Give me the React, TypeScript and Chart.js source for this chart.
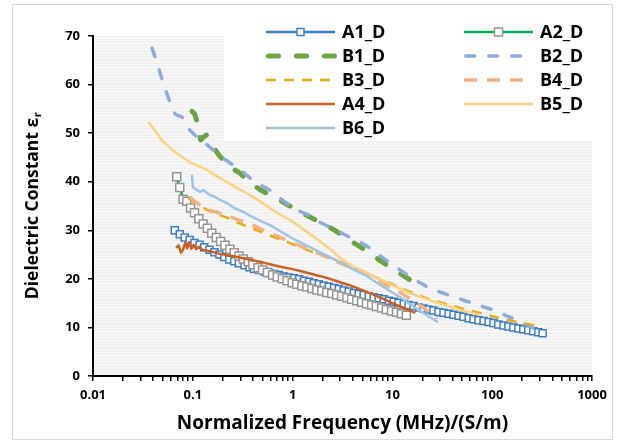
import React, { useEffect, useRef } from 'react';
import { Chart, registerables } from 'chart.js';

Chart.register(...registerables);

const FONT = '"Open Sans", "Liberation Sans", Arial, sans-serif';

// ---------- axis ticks ----------
const X_DECADES = [0.01, 0.1, 1, 10, 100];
const X_MINOR_MULT = [1, 2, 3, 4, 5, 6, 7, 8, 9];
const X_TICK_LABELS = ['0.01', '0.1', '1', '10', '100', '1000'];
const X_MAX = 1000;
const Y_MIN = 0;
const Y_MAX = 70;
const Y_STEP = 10;
const X_TITLE = 'Normalized Frequency (MHz)/(S/m)';
const Y_TITLE_MAIN = 'Dielectric Constant ε';
const Y_TITLE_SUB = 'r';

// ---------- series ----------
const A1_X = [0.066, 0.074, 0.083, 0.093, 0.104, 0.117, 0.13, 0.147, 0.165, 0.185, 0.207, 0.232, 0.26, 0.29, 0.33, 0.37, 0.41, 0.46, 0.52, 0.58, 0.65, 0.73, 0.82, 0.92, 1.03, 1.16, 1.3, 1.46, 1.63, 1.83, 2.05, 2.3, 2.6, 2.9, 3.25, 3.65, 4.1, 4.6, 5.15, 5.8, 6.5, 7.3, 8.2, 9.2, 10.3, 11.5, 13, 14.5, 16.3, 18.3, 20.5, 23, 25.8, 29, 32.5, 36.5, 41, 46, 51.5, 58, 65, 73, 82, 92, 103, 115, 130, 145, 163, 183, 205, 230, 258, 290, 320];
const A1_Y = [30.0, 29.2, 28.5, 28.0, 27.4, 27.0, 26.5, 26.0, 25.5, 25.0, 24.5, 24.0, 23.6, 23.2, 22.8, 22.4, 22.1, 21.8, 21.5, 21.2, 21.0, 20.8, 20.5, 20.3, 20.1, 19.9, 19.6, 19.4, 19.1, 18.9, 18.6, 18.4, 18.1, 17.9, 17.6, 17.4, 17.1, 16.9, 16.7, 16.4, 16.2, 16.0, 15.8, 15.5, 15.3, 15.1, 14.8, 14.6, 14.4, 14.1, 13.9, 13.7, 13.5, 13.2, 13.0, 12.8, 12.6, 12.4, 12.2, 11.9, 11.7, 11.5, 11.3, 11.1, 10.9, 10.6, 10.4, 10.2, 10.0, 9.8, 9.6, 9.4, 9.2, 9.0, 8.8];

const A2_X = [0.069, 0.074, 0.08, 0.087, 0.095, 0.104, 0.115, 0.127, 0.14, 0.155, 0.172, 0.19, 0.21, 0.235, 0.26, 0.29, 0.32, 0.36, 0.4, 0.45, 0.5, 0.56, 0.63, 0.7, 0.79, 0.88, 0.99, 1.1, 1.24, 1.39, 1.56, 1.75, 1.96, 2.2, 2.47, 2.77, 3.1, 3.5, 3.9, 4.4, 4.9, 5.5, 6.2, 6.9, 7.8, 8.7, 9.8, 11, 12.3, 13.8];
const A2_Y = [41.0, 38.8, 36.4, 36.0, 34.6, 33.6, 32.4, 31.3, 30.4, 29.4, 28.5, 27.7, 26.9, 26.1, 25.4, 24.7, 24.1, 23.5, 22.9, 22.3, 21.8, 21.3, 20.8, 20.4, 20.0, 19.6, 19.2, 18.9, 18.6, 18.3, 18.0, 17.7, 17.5, 17.2, 17.0, 16.7, 16.4, 16.1, 15.8, 15.5, 15.2, 14.9, 14.6, 14.3, 14.0, 13.7, 13.4, 13.1, 12.8, 12.5];

const B1_X = [0.098, 0.104, 0.11, 0.115, 0.12, 0.13, 0.137, 0.145, 0.156, 0.17, 0.187, 0.21, 0.236, 0.27, 0.3, 0.35, 0.4, 0.47, 0.55, 0.65, 0.75, 0.9, 1.1, 1.3, 1.6, 2.0, 2.5, 3.0, 3.7, 4.6, 5.9, 7.5, 9.0, 11, 13.5, 16, 18.9];
const B1_Y = [54.5, 54.0, 52.5, 50.0, 48.6, 49.3, 49.6, 48.5, 47.6, 46.4, 45.2, 44.2, 43.2, 42.3, 41.7, 40.4, 39.4, 38.4, 37.6, 36.8, 36.2, 35.2, 34.2, 33.4, 32.4, 31.4, 30.3, 29.3, 28.0, 26.8, 25.4, 23.8, 22.7, 21.6, 20.4, 19.4, 18.3];

const B2_X = [0.039, 0.043, 0.047, 0.052, 0.059, 0.066, 0.072, 0.078, 0.083, 0.09, 0.1, 0.11, 0.125, 0.139, 0.16, 0.2, 0.25, 0.3, 0.4, 0.5, 0.59, 0.75, 0.9, 1.1, 1.39, 1.89, 2.35, 3.0, 3.7, 4.7, 5.9, 7.5, 9.4, 12, 15, 18.5, 22.7, 29, 37.6, 50, 64, 80, 102, 135, 177, 240, 320];
const B2_Y = [67.5, 65.0, 62.4, 59.5, 56.4, 54.0, 53.6, 53.3, 52.5, 51.0, 50.0, 49.2, 48.3, 47.6, 46.5, 44.9, 43.5, 42.4, 40.3, 39.1, 38.3, 36.6, 35.3, 34.2, 33.3, 31.6, 30.7, 29.6, 28.6, 27.6, 26.4, 24.8, 23.3, 21.8, 20.5, 19.3, 18.3, 17.4, 16.6, 15.7, 15.0, 14.3, 13.6, 12.5, 11.5, 10.2, 9.0];

const B3_X = [0.09, 0.1, 0.115, 0.139, 0.17, 0.22, 0.28, 0.37, 0.5, 0.65, 0.88, 1.2, 1.6, 2.2, 3.0, 4.4, 6.3, 9.4, 15, 24, 35, 50, 75, 120, 180, 270];
const B3_Y = [36.6, 36.0, 35.2, 34.2, 33.4, 32.6, 31.6, 30.6, 29.6, 28.6, 27.6, 26.5, 25.5, 24.5, 23.5, 22.1, 20.6, 19.1, 17.3, 15.7, 14.8, 13.9, 13.0, 11.9, 11.1, 10.4];

const B4_X = [0.094, 0.105, 0.118, 0.139, 0.175, 0.22, 0.3, 0.37, 0.5, 0.7, 1.0, 1.4, 1.9, 2.5, 3.4, 4.4, 5.5, 7.5, 11, 15, 20, 24, 28.6];
const B4_Y = [36.8, 35.9, 35.2, 34.2, 33.7, 33.0, 32.0, 31.4, 30.1, 28.8, 27.4, 26.2, 25.1, 23.9, 22.8, 21.8, 21.0, 19.4, 17.7, 15.9, 14.2, 13.0, 11.9];

const A4_X = [0.068, 0.072, 0.076, 0.08, 0.084, 0.088, 0.092, 0.097, 0.102, 0.108, 0.115, 0.125, 0.14, 0.16, 0.19, 0.23, 0.28, 0.35, 0.43, 0.5, 0.65, 0.8, 1.0, 1.3, 1.7, 2.2, 2.8, 3.6, 4.6, 5.8, 7.5, 10, 13, 17];
const A4_Y = [26.4, 26.9, 25.4, 26.0, 27.4, 26.3, 27.6, 26.2, 27.0, 26.1, 26.6, 26.0, 25.8, 25.5, 25.1, 24.8, 24.5, 24.1, 23.7, 23.4, 22.8, 22.4, 22.0, 21.4, 20.8, 20.2, 19.5, 18.8, 18.0, 17.1, 16.2, 15.0, 14.0, 13.0];

const B5_X = [0.036, 0.04, 0.045, 0.05, 0.055, 0.062, 0.069, 0.08, 0.094, 0.115, 0.139, 0.165, 0.2, 0.25, 0.3, 0.4, 0.5, 0.65, 0.8, 1.0, 1.2, 1.6, 2.0, 2.5, 3.0, 4.0, 5.5, 7.5, 10, 14, 18.9, 26, 37.6, 52, 75];
const B5_Y = [52.3, 51.0, 49.6, 48.3, 47.6, 46.6, 45.9, 45.0, 44.0, 43.2, 42.4, 41.4, 40.4, 39.3, 38.3, 36.9, 35.6, 34.0, 32.9, 31.8, 30.6, 28.8, 27.3, 25.8, 24.3, 22.6, 21.3, 19.9, 18.7, 17.3, 16.3, 15.3, 14.3, 13.4, 12.6];

const B6_X = [0.098, 0.1, 0.104, 0.118, 0.128, 0.14, 0.148, 0.165, 0.19, 0.22, 0.26, 0.32, 0.4, 0.47, 0.6, 0.8, 1.0, 1.2, 1.6, 2.2, 3.0, 4.0, 5.5, 7.5, 10, 12, 15, 19, 23, 28.6];
const B6_Y = [41.4, 39.0, 38.6, 37.9, 38.3, 37.6, 37.3, 36.9, 36.2, 35.6, 34.6, 33.8, 32.7, 32.0, 31.0, 29.5, 28.3, 27.5, 26.2, 24.8, 23.4, 22.0, 20.6, 18.8, 17.2, 16.2, 14.8, 13.4, 12.3, 11.1];

const SERIES_NAMES = ['A1_D', 'A2_D', 'B1_D', 'B2_D', 'B3_D', 'B4_D', 'A4_D', 'B5_D', 'B6_D'];

type Style = {
  color: string;
  width: number;
  dash: number[];
  cap: CanvasLineCap;
  marker?: { size: number; stroke: string };
};

const STYLES: Style[] = [
  { color: '#3F7EC2', width: 2.5, dash: [], cap: 'butt', marker: { size: 7, stroke: '#3F7EC2' } },
  { color: '#00B050', width: 2.5, dash: [], cap: 'butt', marker: { size: 8, stroke: '#959595' } },
  { color: '#6AA342', width: 5, dash: [10, 18], cap: 'round' },
  { color: '#8FAADC', width: 3.5, dash: [9, 14], cap: 'round' },
  { color: '#E5A912', width: 2.5, dash: [10, 8], cap: 'butt' },
  { color: '#F4B183', width: 3.5, dash: [13, 10], cap: 'butt' },
  { color: '#CC5F22', width: 2.5, dash: [], cap: 'butt' },
  { color: '#FFD07F', width: 2.5, dash: [], cap: 'butt' },
  { color: '#9DC3E6', width: 2.5, dash: [], cap: 'butt' },
];

const SERIES_X = [A1_X, A2_X, B1_X, B2_X, B3_X, B4_X, A4_X, B5_X, B6_X];
const SERIES_Y = [A1_Y, A2_Y, B1_Y, B2_Y, B3_Y, B4_Y, A4_Y, B5_Y, B6_Y];

const xTickValues: number[] = [];
X_DECADES.forEach((d) => X_MINOR_MULT.forEach((m) => xTickValues.push(Number((d * m).toPrecision(6)))));
xTickValues.push(X_MAX);

function xLabel(v: number): string {
  const e = Math.log10(v);
  const r = Math.round(e);
  if (Math.abs(e - r) < 1e-6) return X_TICK_LABELS[r + 2] ?? '';
  return '';
}

const decorPlugin = {
  id: 'decor',
  beforeDraw(chart: any) {
    const { ctx, chartArea: ca, width, height } = chart;
    ctx.save();
    ctx.fillStyle = '#FFFFFF';
    ctx.fillRect(0, 0, width, height);
    ctx.strokeStyle = '#D9D9D9';
    ctx.lineWidth = 1;
    ctx.strokeRect(12.5, 4.5, 600, 435);
    // patterned plot area
    ctx.fillStyle = '#EFEFEF';
    ctx.fillRect(ca.left, ca.top, ca.right - ca.left, ca.bottom - ca.top);
    ctx.fillStyle = '#F8F8F8';
    for (let y = ca.top + 1; y < ca.bottom; y += 3) {
      ctx.fillRect(ca.left, y, ca.right - ca.left, 1.5);
    }
    // legend box
    ctx.fillStyle = '#FFFFFF';
    ctx.fillRect(224, ca.top, 381, 141 - ca.top);
    ctx.restore();
  },
  afterDraw(chart: any) {
    const { ctx } = chart;
    ctx.save();
    // legend
    const colStart = [266, 464];
    const rowY = [32, 56, 80, 104, 128];
    SERIES_NAMES.forEach((name, i) => {
      const s = STYLES[i];
      const x0 = colStart[i % 2];
      const y = rowY[Math.floor(i / 2)];
      ctx.beginPath();
      ctx.setLineDash(s.dash);
      ctx.lineCap = s.cap;
      ctx.lineWidth = s.width;
      ctx.strokeStyle = s.color;
      ctx.moveTo(x0 + (s.cap === 'round' ? s.width / 2 : 0), y);
      ctx.lineTo(x0 + 69, y);
      ctx.stroke();
      ctx.setLineDash([]);
      if (s.marker) {
        const h = s.marker.size / 2;
        ctx.fillStyle = '#FFFFFF';
        ctx.strokeStyle = s.marker.stroke;
        ctx.lineWidth = 1.5;
        ctx.fillRect(x0 + 34.5 - h, y - h, s.marker.size, s.marker.size);
        ctx.strokeRect(x0 + 34.5 - h, y - h, s.marker.size, s.marker.size);
      }
      ctx.fillStyle = '#000';
      ctx.font = `bold 18px ${FONT}`;
      ctx.textAlign = 'left';
      ctx.textBaseline = 'middle';
      ctx.fillText(name, x0 + 76, y + 1);
    });
    // y axis title with subscript
    ctx.translate(33, 206);
    ctx.rotate(-Math.PI / 2);
    ctx.font = `bold 17.5px ${FONT}`;
    const mainW = ctx.measureText(Y_TITLE_MAIN).width;
    ctx.font = `bold 11px ${FONT}`;
    const subW = ctx.measureText(Y_TITLE_SUB).width;
    const start = -(mainW + subW) / 2;
    ctx.fillStyle = '#000';
    ctx.textAlign = 'left';
    ctx.textBaseline = 'middle';
    ctx.font = `bold 17.5px ${FONT}`;
    ctx.fillText(Y_TITLE_MAIN, start, 0);
    ctx.font = `bold 11px ${FONT}`;
    ctx.fillText(Y_TITLE_SUB, start + mainW + 0.5, 5);
    ctx.restore();
  },
};

export default function App() {
  const ref = useRef<HTMLCanvasElement | null>(null);
  useEffect(() => {
    if (!ref.current) return;
    const datasets = SERIES_NAMES.map((name, i) => {
      const s = STYLES[i];
      return {
        label: name,
        data: SERIES_X[i].map((x, j) => ({ x, y: SERIES_Y[i][j] })),
        borderColor: s.color,
        backgroundColor: s.color,
        borderWidth: s.width,
        borderDash: s.dash,
        borderCapStyle: s.cap,
        borderJoinStyle: 'round' as const,
        tension: 0,
        pointStyle: 'rect' as const,
        pointRadius: s.marker ? (s.marker.size / 2) / Math.SQRT1_2 : 0,
        pointBorderWidth: 1.5,
        pointBorderColor: s.marker ? s.marker.stroke : s.color,
        pointBackgroundColor: '#FFFFFF',
        order: -i,
      };
    });
    const chart = new Chart(ref.current, {
      type: 'line',
      data: { datasets },
      options: {
        animation: false,
        responsive: false,
        devicePixelRatio: 1,
        layout: { padding: { left: 0, top: 36, right: 33, bottom: 0 } },
        plugins: { legend: { display: false }, tooltip: { enabled: false } },
        scales: {
          x: {
            type: 'logarithmic',
            min: X_DECADES[0],
            max: X_MAX,
            afterBuildTicks: (scale: any) => {
              scale.ticks = xTickValues.map((v) => ({ value: v }));
            },
            afterFit: (scale: any) => {
              scale.height = 68;
            },
            grid: { drawOnChartArea: false, drawTicks: true, tickLength: 5, color: '#000', lineWidth: 1.5 },
            border: { display: true, color: '#000', width: 2 },
            ticks: {
              autoSkip: false,
              maxRotation: 0,
              minRotation: 0,
              padding: 6,
              color: '#000',
              font: { family: FONT, size: 13, weight: 'bold' },
              callback: (v: any) => xLabel(Number(v)),
            },
            title: {
              display: true,
              text: X_TITLE,
              color: '#000',
              font: { family: FONT, size: 19, weight: 'bold' },
              padding: { top: 0, bottom: 9 },
            },
          },
          y: {
            type: 'linear',
            min: Y_MIN,
            max: Y_MAX,
            afterFit: (scale: any) => {
              scale.width = 93;
            },
            grid: { drawOnChartArea: false, drawTicks: true, tickLength: 5, color: '#000', lineWidth: 1.5 },
            border: { display: true, color: '#000', width: 2 },
            ticks: {
              stepSize: Y_STEP,
              padding: 8,
              color: '#000',
              font: { family: FONT, size: 13, weight: 'bold' },
            },
          },
        },
      } as any,
      plugins: [decorPlugin],
    });
    return () => chart.destroy();
  }, []);
  return (
    <div style={{ position: 'fixed', left: 0, top: 0, width: 625, height: 444 }}>
      <canvas ref={ref} width={625} height={444} />
    </div>
  );
}
